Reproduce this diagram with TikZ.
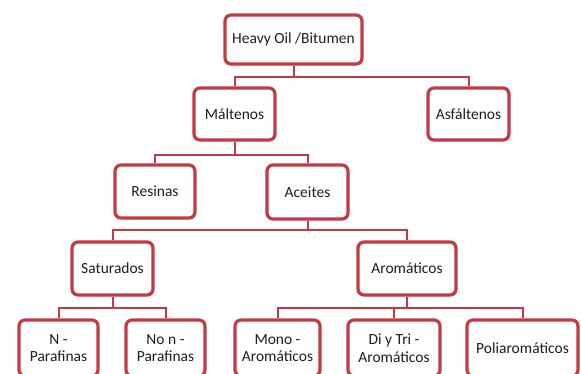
\documentclass[tikz,border=0pt]{standalone}
\usepackage{fontspec}
\setmainfont{Carlito}
\usetikzlibrary{shadows}
\definecolor{rojo}{RGB}{196,58,68}
\definecolor{texto}{RGB}{30,30,30}

\begin{document}
\begin{tikzpicture}[x=1pt,y=-1pt,
  caja/.style={draw=rojo,line width=3.2pt,rounded corners=6pt,fill=white,text=texto,align=center,
    inner sep=1pt,font=\fontsize{15.5}{17.5}\selectfont,
    drop shadow={opacity=.2,shadow xshift=1.2pt,shadow yshift=-1.5pt}},
  rama/.style={draw=rojo,line width=2pt}]
\useasboundingbox(0,0)rectangle(581,373);\clip(0,0)rectangle(581,373);
% conectores
\coordinate(b1)at(293.5,77);\coordinate(b2)at(234.5,155);\coordinate(b3)at(307.5,230);
\coordinate(b4)at(112.5,308);\coordinate(b5)at(407,308);
% niveles
\node[caja,minimum width=137pt,minimum height=49pt](heavy)at(293.5,39.5){Heavy Oil /Bitumen};
\node[caja,minimum width=81pt,minimum height=52pt](malt)at(234.5,114){Máltenos};
\node[caja,minimum width=81pt,minimum height=52pt](asf)at(468.5,114){Asfáltenos};
\node[caja,minimum width=80pt,minimum height=53pt](res)at(155,191.5){Resinas};
\node[caja,minimum width=81pt,minimum height=54pt](ace)at(307.5,192){Aceites};
\node[caja,minimum width=81pt,minimum height=53pt](sat)at(112.5,268.5){Saturados};
\node[caja,minimum width=98pt,minimum height=53pt](aro)at(407,268.5){Aromáticos};
\node[caja,minimum width=79pt,minimum height=56pt](npar)at(58.5,348){N -\\Parafinas};
\node[caja,minimum width=79pt,minimum height=56pt](nonpar)at(165.5,348){No n -\\Parafinas};
\node[caja,minimum width=85pt,minimum height=56pt](mono)at(277.5,348){Mono -\\Aromáticos};
\node[caja,minimum width=92pt,minimum height=56pt](ditri)at(394,348){Di y Tri -\\Aromáticos};
\node[caja,minimum width=111pt,minimum height=56pt](poli)at(522.5,348){Poliaromáticos};
\path[rama](heavy.south)--(b1);\path[rama](malt.north)|-(b1)-|(asf.north);
\path[rama](malt.south)--(b2);\path[rama](res.north)|-(b2)-|(ace.north);
\path[rama](ace.south)--(b3);\path[rama](sat.north)|-(b3)-|(aro.north);
\path[rama](sat.south)--(b4);\path[rama](npar.north)|-(b4)-|(nonpar.north);
\path[rama](aro.south)--(b5);\path[rama](mono.north)|-(b5)-|(poli.north);\path[rama](ditri.north)--(ditri.north|-b5);
\end{tikzpicture}
\end{document}
